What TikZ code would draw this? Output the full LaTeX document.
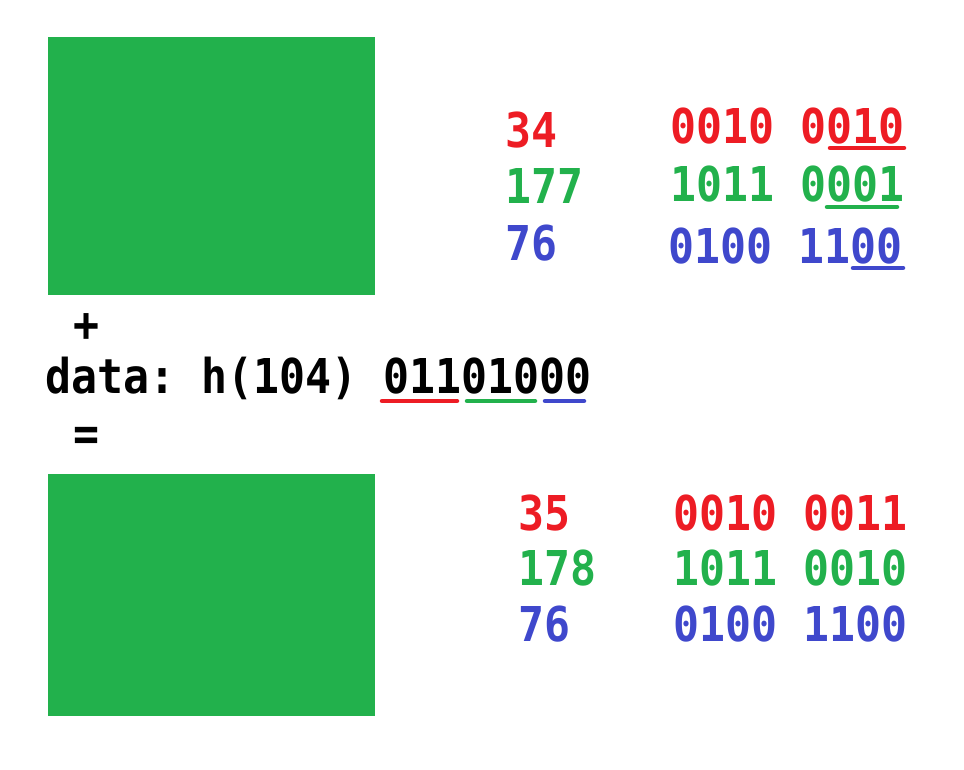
\documentclass[tikz,border=0pt]{standalone}
\usepackage{fontspec}
\setmonofont[FakeStretch=0.9]{DejaVu Sans Mono}
\usetikzlibrary{positioning}

\definecolor{paintred}{RGB}{237,28,36}
\definecolor{paintgreen}{RGB}{34,177,76}
\definecolor{paintblue}{RGB}{63,72,204}

\begin{document}
\begin{tikzpicture}[x=1pt, y=-1pt,
    txt/.style={anchor=base west, inner sep=0pt, font=\fontsize{48}{56}\selectfont\ttfamily\bfseries},
    uline/.style={line width=4.5pt, line cap=round}]

            \useasboundingbox (0,0) rectangle (964,770);

            % Draw the two pixel blocks
            \node[fill=paintgreen, inner sep=0pt, minimum width=327pt, minimum height=258pt, anchor=north west] (imgtop) at (48,37) {};
            \node[fill=paintgreen, inner sep=0pt, minimum width=327pt, minimum height=242pt, anchor=north west] (imgbot) at (48,474) {};

            % Draw the channel values of the first pixel
            \node[txt, text=paintred] (rtop) at (505,148) {34};
            \node[txt, text=paintgreen] (gtop) at (505,204) {177};
            \node[txt, text=paintblue] (btop) at (505,261) {76};

            \node[txt, text=paintred] (rbintop) at (670,144) {0010 0010};
            \node[txt, text=paintgreen] (gbintop) at (670,202) {1011 0001};
            \node[txt, text=paintblue] (bbintop) at (668,263) {0100 1100};

            % Draw the data byte
            \node[txt] (plus) at (73,341) {+};
            \node[txt] (data) at (45,393) {data: h(104) 01101000};
            \node[txt] (eq) at (73,450) {=};

            % Draw the channel values of the second pixel
            \node[txt, text=paintred] (rbot) at (518,530) {35};
            \node[txt, text=paintgreen] (gbot) at (518,585) {178};
            \node[txt, text=paintblue] (bbot) at (518,641) {76};

            \node[txt, text=paintred] (rbinbot) at (673,530) {0010 0011};
            \node[txt, text=paintgreen] (gbinbot) at (673,585) {1011 0010};
            \node[txt, text=paintblue] (bbinbot) at (673,641) {0100 1100};

            % End points of the underlines
            \coordinate (ra) at (830,148);
            \coordinate (rb) at (904,148);
            \coordinate (ga) at (827,207);
            \coordinate (gb) at (897,207);
            \coordinate (ba) at (853,268);
            \coordinate (bb) at (903,268);
            \coordinate (dra) at (382,401);
            \coordinate (drb) at (457,401);
            \coordinate (dga) at (467,401);
            \coordinate (dgb) at (535,401);
            \coordinate (dba) at (545,401);
            \coordinate (dbb) at (584,401);

            % Underline the bits that are replaced
            \draw[uline, paintred] (ra) -- (rb);
            \draw[uline, paintgreen] (ga) -- (gb);
            \draw[uline, paintblue] (ba) -- (bb);

            % Underline the bits of the data
            \draw[uline, paintred] (dra) -- (drb);
            \draw[uline, paintgreen] (dga) -- (dgb);
            \draw[uline, paintblue] (dba) -- (dbb);

\end{tikzpicture}
\end{document}
